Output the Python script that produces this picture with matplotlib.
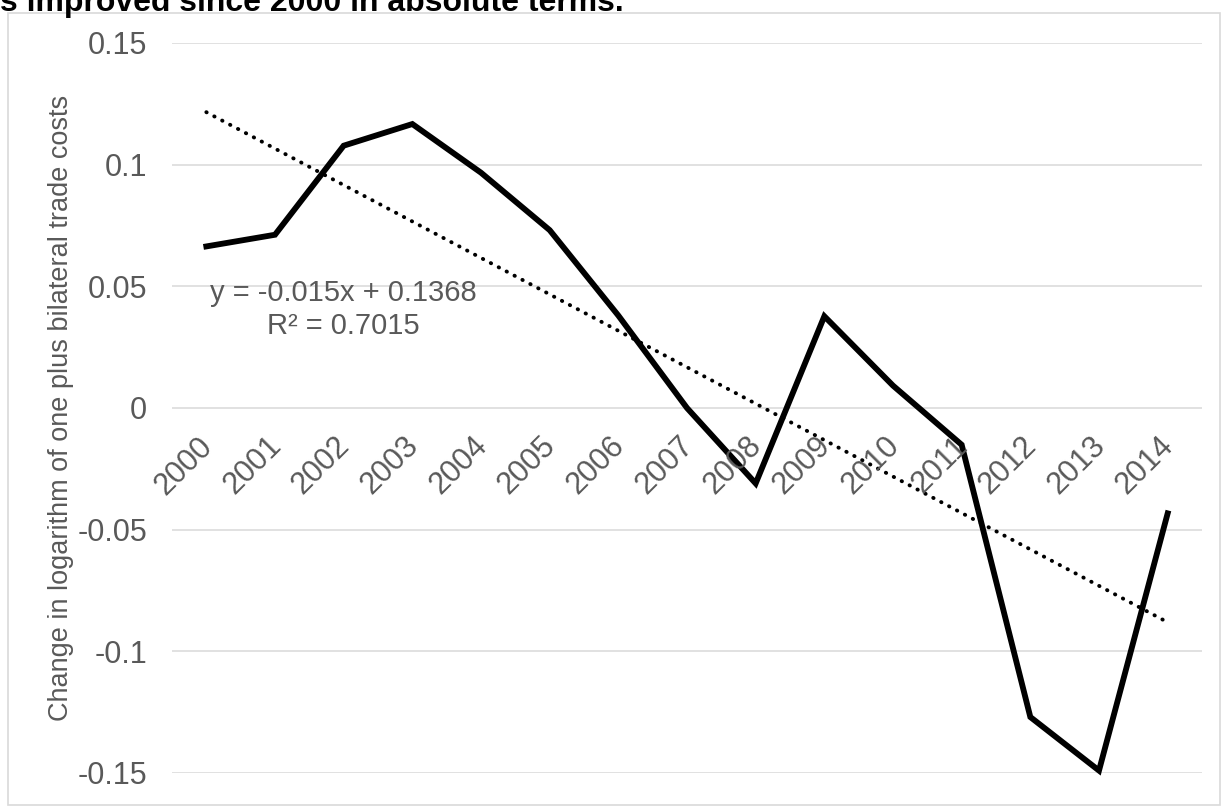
import numpy as np
import matplotlib.pyplot as plt
from matplotlib.patches import Rectangle
from matplotlib import transforms

years = ['2000', '2001', '2002', '2003', '2004', '2005', '2006', '2007',
         '2008', '2009', '2010', '2011', '2012', '2013', '2014']
change = [0.0664, 0.0712, 0.1078, 0.1167, 0.0967, 0.0731, 0.038, 0.0,
          -0.031, 0.0377, 0.0092, -0.0151, -0.127, -0.149, -0.0433]
yticks = [-0.15, -0.1, -0.05, 0, 0.05, 0.1, 0.15]
ytick_labels = ['-0.15', '-0.1', '-0.05', '0', '0.05', '0.1', '0.15']

title = 's improved since 2000 in absolute terms.'
ylabel = 'Change in logarithm of one plus bilateral trade costs'
eq_text = 'y = -0.015x + 0.1368\nR\u00b2 = 0.7015'

grey = '#595959'
plt.rcParams['font.family'] = ['Liberation Sans', 'DejaVu Sans']

W, H = 1224, 810
fig = plt.figure(figsize=(W / 100, H / 100), dpi=100)

# outer chart border
fig.patches.append(Rectangle((8 / W, 5 / H), 1212 / W, 792 / H, transform=fig.transFigure,
                             fill=False, edgecolor='#d9d9d9', lw=1.2))

ax = fig.add_axes([172 / W, 1 - 773 / H, 1030 / W, 730 / H])
x = np.arange(len(years))

# linear trendline fitted on x = 1..n (Excel style)
k, b = np.polyfit(x + 1, change, 1)
trend = k * (x + 1) + b

ax.plot(x, change, color='black', lw=4.2, solid_joinstyle='miter', clip_on=False, zorder=3)
ax.plot(x, trend, color='black', lw=2.8, linestyle=(0, (0.1, 2.2)),
        dash_capstyle='round', clip_on=False, zorder=3)

ax.set_xlim(-0.5, len(years) - 0.5)
ax.set_ylim(-0.15, 0.15)
ax.set_yticks(yticks)
ax.set_yticklabels(ytick_labels)
ax.tick_params(axis='y', length=0, pad=18, labelsize=22, labelcolor=grey)
ax.set_xticks([])
ax.grid(axis='y', color='#d9d9d9', lw=1.1)
ax.set_axisbelow(True)
for s in ax.spines.values():
    s.set_visible(False)

ax.set_ylabel(ylabel, fontsize=19.5, color=grey, labelpad=2)

# category labels sitting under the zero line, rotated like Excel
off = transforms.offset_copy(ax.transData, fig=fig, x=-9, y=-23, units='dots')
for i, yr in enumerate(years):
    ax.text(i, 0, yr, transform=off, rotation=45, rotation_mode='anchor',
            ha='right', va='top', fontsize=22, color=grey, zorder=4)

ax.text(2.0, 0.0405, eq_text, fontsize=21, color=grey, ha='center', va='center',
        linespacing=1.26, zorder=2)

fig.text(0.0, 1 - 11 / H, title, fontsize=23, fontweight='bold', color='black',
         ha='left', va='baseline')

fig.savefig('out.png', dpi=100)
